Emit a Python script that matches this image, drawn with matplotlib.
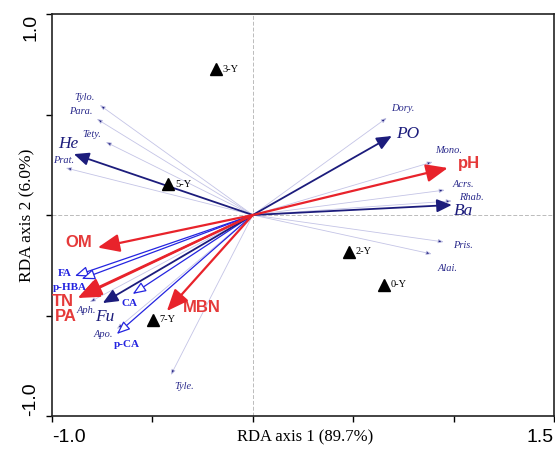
import numpy as np
import matplotlib.pyplot as plt

# species scores (thin arrows)
species = ['Tylo.', 'Para.', 'Tety.', 'Prat.', 'Dory.', 'Mono.', 'Acrs.', 'Rhab.',
           'Pris.', 'Alai.', 'Aph.', 'Apo.', 'Tyle.']
species_x = [-0.762, -0.777, -0.732, -0.931, 0.667, 0.896, 0.956, 0.991,
             0.951, 0.891, -0.812, -0.677, -0.408]
species_y = [0.547, 0.478, 0.363, 0.234, 0.483, 0.264, 0.124, 0.070,
             -0.134, -0.194, -0.433, -0.567, -0.796]

# navy environmental arrows
navy_names = ['He', 'PO', 'Ba', 'Fu']
navy_x = [-0.891, 0.692, 0.991, -0.747]
navy_y = [0.303, 0.393, 0.050, -0.438]

# red soil property arrows
red_names = ['pH', 'OM', 'TN', 'PA', 'MBN']
red_x = [0.971, -0.772, -0.872, -0.862, -0.428]
red_y = [0.234, -0.162, -0.413, -0.403, -0.478]

# blue phenolic acid arrows (open heads)
blue_names = ['FA', 'p-HBA', 'CA', 'p-CA']
blue_x = [-0.886, -0.852, -0.598, -0.677]
blue_y = [-0.303, -0.318, -0.393, -0.592]

# samples
samples = ['3-Y', '5-Y', '7-Y', '2-Y', '0-Y']
sample_x = [-0.184, -0.423, -0.498, 0.478, 0.652]
sample_y = [0.726, 0.154, -0.522, -0.184, -0.348]

# label offsets in pixels
species_off = {'Tylo.': (-15, 8), 'Para.': (-16, 7), 'Tety.': (-14, 8), 'Prat.': (-2, 7),
               'Dory.': (16, 9), 'Mono.': (16, 11), 'Acrs.': (19, 6), 'Rhab.': (20, 3),
               'Pris.': (19, -4), 'Alai.': (16, -15), 'Aph.': (-3, -8),
               'Apo.': (-14, -6), 'Tyle.': (13, -12)}
navy_off = {'He': (-6, 10), 'PO': (16, 2), 'Ba': (12, -6), 'Fu': (2, -14)}
red_off = {'pH': (21, 4), 'OM': (-19, 5), 'TN': (-15, -3), 'PA': (-14, -20), 'MBN': (35, 4)}
blue_off = {'FA': (-10, 2), 'p-HBA': (-12, -9), 'CA': (-3, -10), 'p-CA': (10, -11)}

RED = '#e8232b'
NAVY = '#1c1c7c'
BLUE = '#2424e0'
LIGHT = '#c4c4e6'
SERIF = 'Liberation Serif'
SANS = 'Liberation Sans'

fig = plt.figure(figsize=(5.55, 4.54), dpi=100)
ax = fig.add_axes([52 / 555, 38 / 454, 502 / 555, 402 / 454])
ax.set_xlim(-1.0, 1.5)
ax.set_ylim(-1.0, 1.0)

ax.axhline(0, color='#bbbbbb', lw=0.7, ls=(0, (4, 2)), zorder=0)
ax.axvline(0, color='#bbbbbb', lw=0.7, ls=(0, (4, 2)), zorder=0)


def arrow(x, y, color, lw, style, ms, fc=None, z=2):
    props = dict(arrowstyle=style, color=color, lw=lw, shrinkA=0, shrinkB=0,
                 mutation_scale=ms)
    a = ax.annotate('', xy=(x, y), xytext=(0, 0), arrowprops=props, zorder=z)
    if fc is not None:
        a.arrow_patch.set_facecolor(fc)
        a.arrow_patch.set_edgecolor(color)
    return a


for n, x, y in zip(species, species_x, species_y):
    a = arrow(x, y, LIGHT, 0.6, '-|>,head_length=0.4,head_width=0.15', 8, z=1)
    a.arrow_patch.set_facecolor(NAVY)
    ax.annotate(n, (x, y), xytext=species_off[n], textcoords='offset pixels',
                ha='center', va='center', fontsize=7.5, style='italic',
                family=SERIF, color='#2b2b8c')

for n, x, y in zip(blue_names, blue_x, blue_y):
    arrow(x, y, BLUE, 0.9, '-|>,head_length=0.5,head_width=0.2', 16, fc='white', z=3)
    ax.annotate(n, (x, y), xytext=blue_off[n], textcoords='offset pixels',
                ha='center', va='center', fontsize=8, weight='bold',
                family=SERIF, color=BLUE)

for n, x, y in zip(navy_names, navy_x, navy_y):
    arrow(x, y, NAVY, 1.3, '-|>,head_length=0.5,head_width=0.22', 18, z=4)
    ax.annotate(n, (x, y), xytext=navy_off[n], textcoords='offset pixels',
                ha='center', va='center', fontsize=12.5, style='italic',
                family=SERIF, color=NAVY)

for n, x, y in zip(red_names, red_x, red_y):
    arrow(x, y, RED, 1.6, '-|>,head_length=0.6,head_width=0.25', 22, z=5)
    ax.annotate(n, (x, y), xytext=red_off[n], textcoords='offset pixels',
                ha='center', va='center', fontsize=12, weight='bold',
                family=SANS, color='#e53a3a')

ax.plot(sample_x, sample_y, '^', color='black', ms=8, zorder=6)
for n, x, y in zip(samples, sample_x, sample_y):
    ax.annotate(n, (x, y), xytext=(7, 0), textcoords='offset pixels',
                ha='left', va='center', fontsize=7.5, family=SERIF, color='black')

ax.set_xticks([-1.0, -0.5, 0, 0.5, 1.0, 1.5])
ax.set_xticklabels(['-1.0', '', '', '', '', '1.5'], family=SANS, fontsize=14)
ax.set_yticks([-1.0, -0.5, 0, 0.5, 1.0])
ax.set_yticklabels(['-1.0', '', '', '', '1.0'], family=SANS, fontsize=14,
                   rotation=90)
xl = ax.get_xticklabels()
xl[0].set_ha('left')
xl[-1].set_ha('right')
yl = ax.get_yticklabels()
yl[0].set_va('bottom')
yl[-1].set_va('top')
ax.tick_params(direction='out', length=4, width=1, pad=5)
for s in ax.spines.values():
    s.set_linewidth(1.2)
    s.set_color('#222222')

ax.text(0.504, -0.052, 'RDA axis 1 (89.7%)', transform=ax.transAxes, ha='center',
        va='center', fontsize=12, family=SERIF)
ax.text(-0.05, 0.5, 'RDA axis 2 (6.0%)', transform=ax.transAxes, ha='center',
        va='center', fontsize=12.5, family=SERIF, rotation=90)

fig.savefig('out.png', dpi=100)
